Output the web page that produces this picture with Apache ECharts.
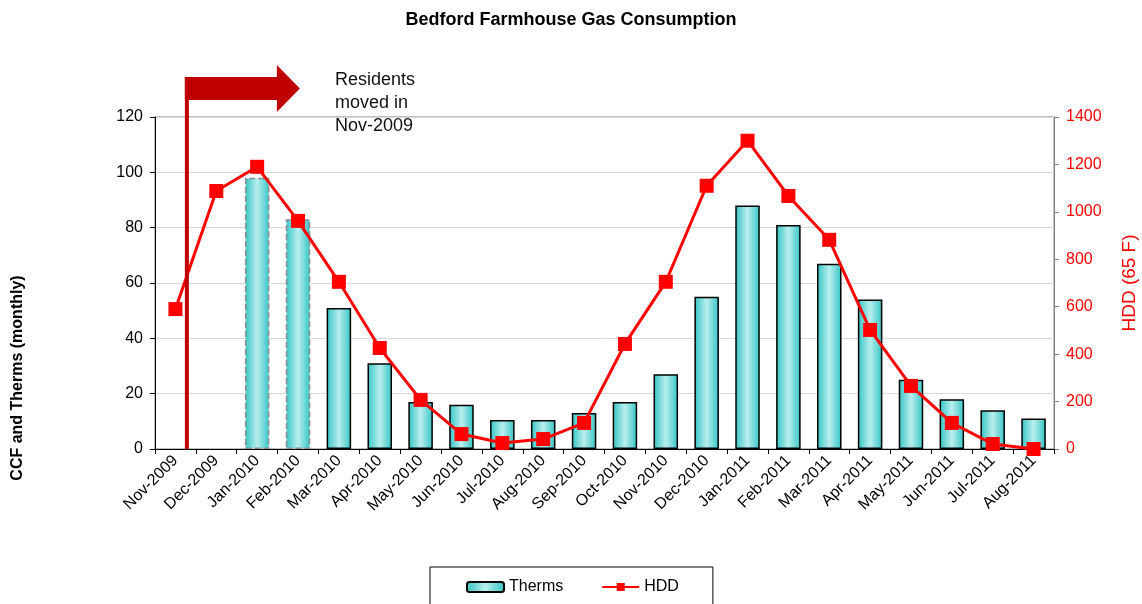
<!DOCTYPE html>
<html>
<head>
<meta charset="utf-8">
<script src="https://cdn.jsdelivr.net/npm/echarts@6/dist/echarts.min.js"></script>
<style>
  html, body { margin: 0; padding: 0; background: #fff; }
  #chart { width: 1142px; height: 604px; }
</style>
</head>
<body>
<div id="chart"></div>
<script>
  const months = ['Nov-2009', 'Dec-2009', 'Jan-2010', 'Feb-2010', 'Mar-2010', 'Apr-2010', 'May-2010',
    'Jun-2010', 'Jul-2010', 'Aug-2010', 'Sep-2010', 'Oct-2010', 'Nov-2010', 'Dec-2010', 'Jan-2011',
    'Feb-2011', 'Mar-2011', 'Apr-2011', 'May-2011', 'Jun-2011', 'Jul-2011', 'Aug-2011']
  const therms = [null, null, 98, 83, 51, 31, 17, 16, 10.5, 10.5, 13, 17, 27, 55, 88, 81, 67, 54, 25, 18, 14, 11]
  const hdd = [590, 1088, 1190, 962, 705, 426, 207, 63, 25, 42, 110, 443, 705, 1110, 1300, 1067, 882, 502, 266, 110, 21, 0]
  // bars shown with dashed outline (estimated months)
  const estimatedMonths = ['Jan-2010', 'Feb-2010']
  const leftTicks = { min: 0, max: 120, interval: 20 }
  const rightTicks = { min: 0, max: 1400, interval: 200 }

  const font = 'Arial, "Liberation Sans", sans-serif'
  const barFill = new echarts.graphic.LinearGradient(0, 0, 1, 0, [
    { offset: 0, color: '#33c4c4' },
    { offset: 0.5, color: '#b9eeee' },
    { offset: 1, color: '#33c4c4' }
  ])

  const barData = therms.map((v, i) => {
    if (v === null) return '-'
    if (estimatedMonths.includes(months[i])) {
      return { value: v, itemStyle: { borderColor: '#8c8c8c', borderType: 'dashed', borderWidth: 1.5 } }
    }
    return v
  })

  const chart = echarts.init(document.getElementById('chart'))
  const option = {
    animation: false,
    textStyle: { fontFamily: font },
    title: {
      text: 'Bedford Farmhouse Gas Consumption',
      left: 'center',
      top: 6,
      textStyle: { fontSize: 18, fontWeight: 'bold', color: '#000', fontFamily: font }
    },
    legend: {
      left: 430,
      top: 567,
      padding: [12, 34, 14, 36],
      itemGap: 38,
      itemWidth: 37,
      itemHeight: 10,
      borderColor: '#000',
      borderWidth: 1,
      textStyle: { fontSize: 16, color: '#000', fontFamily: font },
      data: ['Therms', 'HDD']
    },
    grid: {
      left: 155,
      right: 88,
      top: 117,
      bottom: 155,
      outerBoundsMode: 'none',
      show: true,
      borderColor: '#808080',
      borderWidth: 1
    },
    xAxis: {
      type: 'category',
      data: months,
      axisLine: { lineStyle: { color: '#000', width: 1 } },
      axisTick: { show: true, length: 5, lineStyle: { color: '#000' } },
      axisLabel: { rotate: 45, fontSize: 16, color: '#000', interval: 0, margin: 9, fontFamily: font }
    },
    yAxis: [
      {
        type: 'value',
        min: leftTicks.min,
        max: leftTicks.max,
        interval: leftTicks.interval,
        axisLine: { show: true, lineStyle: { color: '#000' } },
        axisTick: { show: true, length: 5, inside: false, lineStyle: { color: '#000' } },
        axisLabel: { fontSize: 16, color: '#000', margin: 12, fontFamily: font },
        splitLine: { show: true, lineStyle: { color: '#d9d9d9', width: 1 } }
      },
      {
        type: 'value',
        min: rightTicks.min,
        max: rightTicks.max,
        interval: rightTicks.interval,
        position: 'right',
        name: 'HDD (65 F)',
        nameLocation: 'middle',
        nameRotate: 90,
        nameGap: 66,
        nameTextStyle: { fontSize: 19, color: '#ff0000', fontFamily: font },
        axisLine: { show: true, lineStyle: { color: '#808080' } },
        axisTick: { show: true, length: 5, lineStyle: { color: '#808080' } },
        axisLabel: { fontSize: 16, color: '#ff0000', margin: 12, fontFamily: font, formatter: v => String(v) },
        splitLine: { show: false }
      }
    ],
    series: [
      {
        name: 'Therms',
        type: 'bar',
        yAxisIndex: 0,
        barWidth: '60%',
        data: barData,
        itemStyle: { color: barFill, borderColor: '#000', borderWidth: 1.5 }
      },
      {
        name: 'HDD',
        type: 'line',
        yAxisIndex: 1,
        data: hdd,
        symbol: 'rect',
        symbolSize: 14,
        lineStyle: { color: '#ff0000', width: 3 },
        itemStyle: { color: '#ff0000' }
      }
    ]
  }
  chart.setOption(option)

  // move-in annotation: vertical line + arrow + note, placed from the axis scale
  const xNov = chart.convertToPixel({ xAxisIndex: 0 }, 'Nov-2009')
  const xDec = chart.convertToPixel({ xAxisIndex: 0 }, 'Dec-2009')
  const lineX = xNov + (xDec - xNov) * 0.28
  const baseY = chart.convertToPixel({ yAxisIndex: 0 }, 0)
  chart.setOption({
    graphic: [
      {
        type: 'rect',
        shape: { x: lineX - 2, y: 77, width: 4, height: baseY - 77 },
        style: { fill: '#c00000' },
        z: 10
      },
      {
        type: 'polygon',
        shape: {
          points: [
            [lineX - 2, 77], [lineX + 90, 77], [lineX + 90, 65], [lineX + 113, 88.5],
            [lineX + 90, 112], [lineX + 90, 100], [lineX - 2, 100]
          ]
        },
        style: { fill: '#c00000' },
        z: 10
      },
      {
        type: 'text',
        left: 335,
        top: 69,
        style: {
          text: 'Residents\nmoved in\nNov-2009',
          font: '18px ' + font,
          fill: '#111',
          lineHeight: 23
        },
        z: 10
      },
      {
        type: 'text',
        x: 18,
        y: 378,
        rotation: Math.PI / 2,
        style: {
          text: 'CCF and Therms (monthly)',
          font: 'bold 16px ' + font,
          fill: '#000',
          align: 'center',
          verticalAlign: 'middle'
        }
      }
    ]
  })

  window.onresize = () => {
    chart.resize()
  }
</script>
</body>
</html>
